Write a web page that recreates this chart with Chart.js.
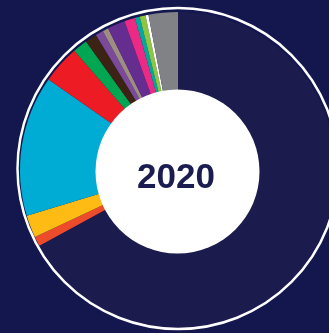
<!DOCTYPE html>
<html>
<head>
<meta charset="utf-8">
<script src="https://cdn.jsdelivr.net/npm/chart.js@4/dist/chart.umd.min.js"></script>
<style>
html,body{margin:0;padding:0;width:329px;height:333px;overflow:hidden;background:#13174e;}
#wrap{position:absolute;left:-22px;top:-30px;width:400px;height:400px;}
</style>
</head>
<body>
<div id="wrap"><canvas id="c" width="400" height="400"></canvas></div>
<script>
const categories = ["A","B","C","D","E","F","G","H","I","J","K","L","M","N","O"];
const values = [67.1, 1.0, 2.3, 14.4, 3.9, 1.5, 1.2, 0.8, 0.6, 1.8, 1.1, 0.5, 0.6, 0.3, 3.0];
const colors = ["#1b1c4d","#ee4b2b","#fdbb13","#00acd4","#ed1c24","#00a651","#3d2314","#7b4a9b","#9e8d80","#662d91","#ec2a86","#00a99d","#8dc63f","#ffffff","#808285"];
const centerLabel = "2020";

const deco = {
  id:'deco',
  afterDatasetsDraw(chart){
    const meta = chart.getDatasetMeta(0);
    const arc = meta.data[0];
    const cx = arc.x, cy = arc.y, R = arc.outerRadius;
    const ctx = chart.ctx;
    ctx.save();
    ctx.beginPath();
    ctx.arc(cx, cy - 1.5, R + 2.5, 0, Math.PI*2);
    ctx.strokeStyle = '#ffffff';
    ctx.lineWidth = 2.5;
    ctx.stroke();
    ctx.beginPath();
    ctx.arc(cx - 0.5, cy + 1.5, 82, 0, Math.PI*2);
    ctx.fillStyle = '#ffffff';
    ctx.fill();
    ctx.fillStyle = '#1b1c4f';
    ctx.font = 'bold 35px "Liberation Sans", Arial, sans-serif';
    ctx.textAlign = 'center';
    ctx.textBaseline = 'alphabetic';
    ctx.fillText(centerLabel, cx - 2, cy + 18);
    ctx.restore();
  }
};

new Chart(document.getElementById('c'), {
  type:'doughnut',
  data:{labels:categories, datasets:[{data:values, backgroundColor:colors, borderWidth:0}]},
  options:{
    responsive:false,
    animation:false,
    cutout:78,
    layout:{padding:42},
    plugins:{legend:{display:false}, tooltip:{enabled:false}}
  },
  plugins:[deco]
});
</script>
</body>
</html>
